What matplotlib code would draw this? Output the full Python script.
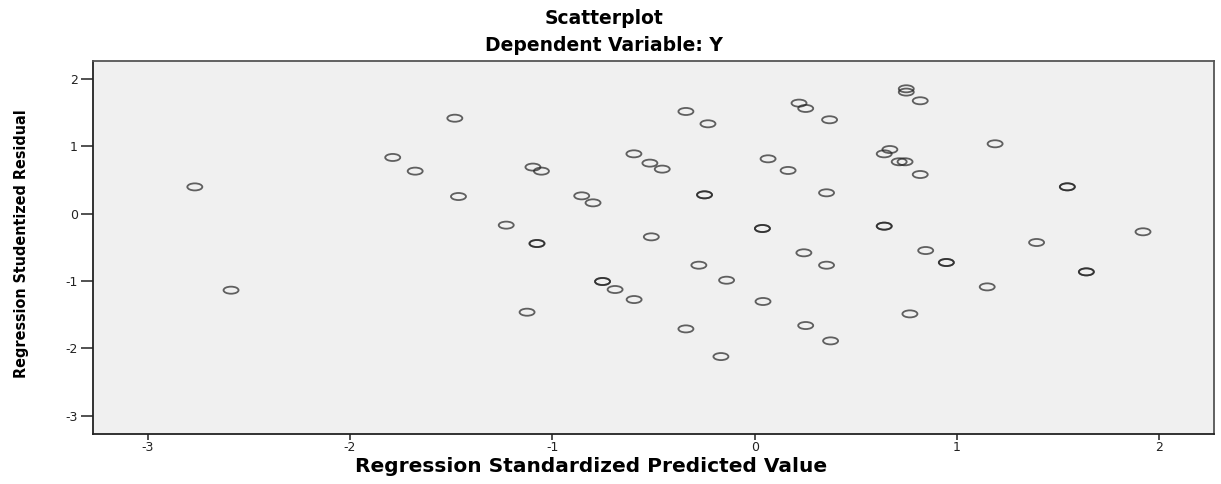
import numpy as np
import matplotlib
matplotlib.use("Agg")
import matplotlib.pyplot as plt
from matplotlib.path import Path
from matplotlib import font_manager

plt.rcParams["axes.unicode_minus"] = False

# Regression standardized predicted value (x) and studentized residual (y)
pred = [-2.767, -2.588, -1.789, -1.678, -1.482, -1.464,
        -0.340, -0.231, 0.219, 0.252, 0.370, -0.597, -0.518, -0.457,
        -1.096, -1.054, 0.066, 0.165, -0.855, -0.799, -0.248, -0.248,
        0.355, -1.228, -1.076, -1.076, -0.511, 0.038, 0.038, 0.243,
        -0.276, 0.355, -0.139, -0.752, -0.752, -0.690, -0.596, 0.041,
        -1.125, -0.340, 0.252, 0.375, -0.167,
        0.749, 0.749, 0.818, 0.668, 0.640, 0.714, 0.743, 0.818, 1.188,
        1.545, 1.545, 0.640, 0.640, 0.845, 0.947, 0.947, 1.149, 0.767,
        1.393, 1.639, 1.639, 1.919]
resid = [0.400, -1.134, 0.837, 0.634, 1.420, 0.257,
         1.520, 1.337, 1.644, 1.565, 1.397, 0.891, 0.753, 0.664,
         0.694, 0.634, 0.817, 0.644, 0.267, 0.163, 0.282, 0.282,
         0.312, -0.168, -0.441, -0.441, -0.342, -0.218, -0.218, -0.579,
         -0.763, -0.763, -0.986, -1.005, -1.005, -1.124, -1.273, -1.302,
         -1.461, -1.709, -1.659, -1.887, -2.120,
         1.857, 1.808, 1.679, 0.955, 0.891, 0.773, 0.773, 0.584, 1.040,
         0.401, 0.401, -0.183, -0.183, -0.545, -0.723, -0.723, -1.085, -1.486,
         -0.426, -0.862, -0.862, -0.267]

ticks = [-3, -2, -1, 0, 1, 2]

# pick a narrow font for the y label if one is around
names = {f.name for f in font_manager.fontManager.ttflist}
narrow = [n for n in ["Liberation Sans Narrow", "DejaVu Sans Condensed"] if n in names]
ylab_family = narrow + ["DejaVu Sans"]

# flattened circle marker (the source image is stretched sideways)
circ = Path.unit_circle()
ellipse = Path(circ.vertices * [1.0, 0.47], circ.codes)

fig = plt.figure(figsize=(12.21, 4.84), dpi=100)
ax = fig.add_axes([0.0762, 0.1033, 0.9181, 0.7707])
ax.set_facecolor("#f0f0f0")

ax.scatter(pred, resid, s=117, marker=ellipse, facecolors="none",
           edgecolors="#222222", linewidths=1.3, alpha=0.7)

ax.set_xlim(-3.27, 2.27)
ax.set_ylim(-3.27, 2.27)
ax.set_xticks(ticks)
ax.set_yticks(ticks)
ax.tick_params(axis="x", length=4, width=1.2, color="#333333", labelsize=9,
               labelcolor="#222222", pad=1)
ax.tick_params(axis="y", length=9, width=1.2, color="#333333", labelsize=9,
               labelcolor="#222222", pad=2)
for sp in ax.spines.values():
    sp.set_color("#555555")
    sp.set_linewidth(1.3)
ax.spines["left"].set_color("#222222")
ax.spines["bottom"].set_color("#222222")

fig.text(0.495, 0.962, "Scatterplot", ha="center", va="center",
         fontsize=13.5, fontweight="bold")
fig.text(0.495, 0.905, "Dependent Variable: Y", ha="center", va="center",
         fontsize=13.5, fontweight="bold")
fig.text(0.484, 0.036, "Regression Standardized Predicted Value", ha="center",
         va="center", fontsize=14.5, fontweight="bold")
fig.text(0.018, 0.497, "Regression Studentized Residual", ha="center",
         va="center", rotation=90, fontsize=11.5, fontweight="bold",
         family=ylab_family, fontstretch="condensed")

fig.savefig("out.png", dpi=100)
